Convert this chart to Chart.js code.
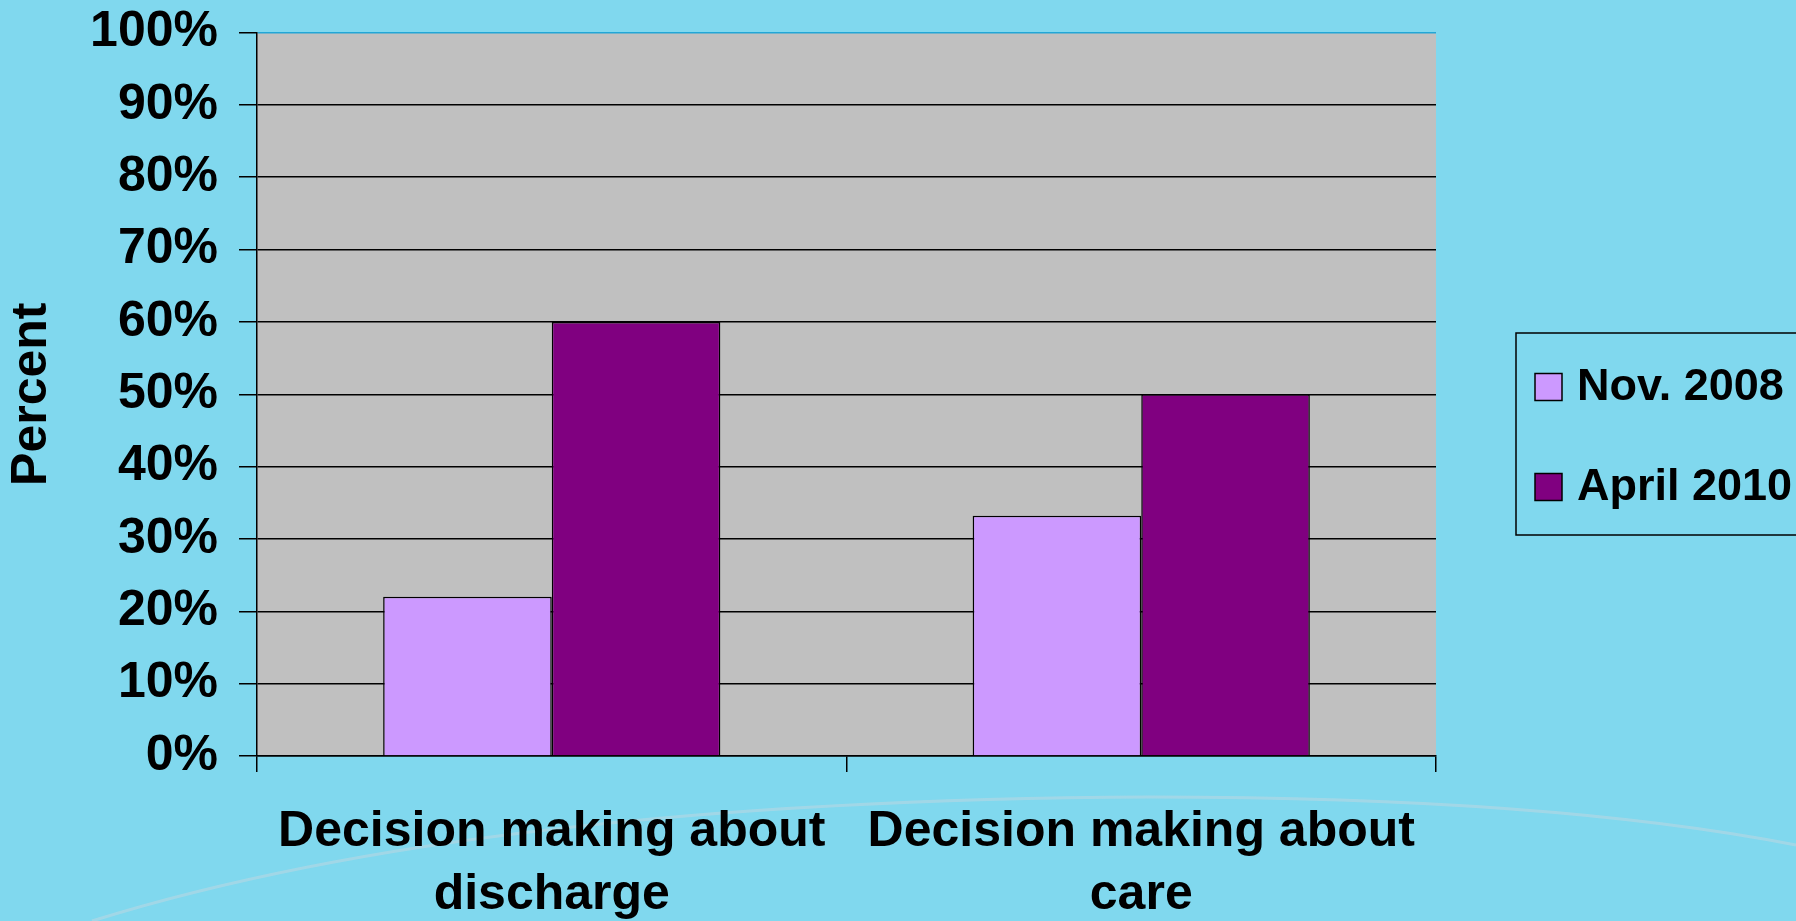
<!DOCTYPE html>
<html>
<head>
<meta charset="utf-8">
<script src="https://cdn.jsdelivr.net/npm/chart.js@4"></script>
<style>
  html, body { margin: 0; padding: 0; background: #80D8EE; }
  #wrap { width: 1796px; height: 921px; position: relative; }
</style>
</head>
<body>
<div id="wrap"><canvas id="barChart" width="1796" height="921"></canvas></div>
<script>
// data
const categories = [['Decision making about', 'discharge'], ['Decision making about', 'care']];
const seriesNames = ['Nov. 2008', 'April 2010'];
const nov2008 = [22, 33.2];
const april2010 = [60, 50];
const seriesColors = ['#CC99FF', '#800080'];
const yTicks = [0, 10, 20, 30, 40, 50, 60, 70, 80, 90, 100];

const FONT = '"Liberation Sans", Arial, sans-serif';

// background, plot fill and the faint swoosh
const backdrop = {
    id: 'backdrop',
    beforeDraw(chart) {
        const c = chart.ctx, a = chart.chartArea;
        c.save();
        c.fillStyle = '#80D8EE';
        c.fillRect(0, 0, chart.width, chart.height);
        c.strokeStyle = 'rgba(175,215,228,0.7)';
        c.lineWidth = 3;
        c.beginPath();
        c.moveTo(92, 921);
        c.quadraticCurveTo(480, 800, 1150, 797);
        c.quadraticCurveTo(1550, 797, 1796, 845);
        c.stroke();
        c.fillStyle = '#C0C0C0';
        c.fillRect(a.left, a.top, a.right - a.left, a.bottom - a.top);
        c.restore();
    }
};

// legend box drawn by hand so it can run off the right edge
const sideLegend = {
    id: 'sideLegend',
    afterDraw(chart) {
        const c = chart.ctx;
        c.save();
        c.strokeStyle = '#000';
        c.lineWidth = 1.5;
        c.strokeRect(1516, 333, 320, 202);
        c.font = 'bold 45px ' + FONT;
        c.textBaseline = 'middle';
        c.textAlign = 'left';
        chart.data.datasets.forEach((ds, i) => {
            const cy = 387 + i * 100;
            c.fillStyle = ds.backgroundColor;
            c.fillRect(1535, cy - 13.5, 27, 27);
            c.strokeRect(1535, cy - 13.5, 27, 27);
            c.fillStyle = '#000';
            c.fillText(ds.label, 1577, cy + 1);
        });
        c.restore();
    }
};

const ctx = document.getElementById('barChart').getContext('2d');
new Chart(ctx, {
    type: 'bar',
    data: {
        labels: categories,
        datasets: [{
            label: seriesNames[0],
            data: nov2008,
            backgroundColor: seriesColors[0],
            borderColor: '#000',
            borderWidth: 1.5
        }, {
            label: seriesNames[1],
            data: april2010,
            backgroundColor: seriesColors[1],
            borderColor: '#000',
            borderWidth: 1.5
        }]
    },
    options: {
        responsive: false,
        animation: false,
        devicePixelRatio: 1,
        layout: { padding: { top: 32.5, right: 360, left: 0, bottom: 0 } },
        datasets: { bar: { categoryPercentage: 0.572, barPercentage: 1.0 } },
        plugins: {
            legend: { display: false },
            tooltip: { enabled: false }
        },
        scales: {
            x: {
                offset: true,
                grid: {
                    offset: true,
                    drawOnChartArea: true,
                    color: c => c.index === 2 ? '#22A6D6' : 'rgba(0,0,0,0)',
                    tickColor: '#000',
                    tickLength: 16,
                    lineWidth: 1.5
                },
                border: { color: '#000', width: 1.5 },
                ticks: {
                    color: '#000',
                    padding: 29,
                    maxRotation: 0,
                    font: { family: FONT, size: 50, weight: 'bold', lineHeight: 1.26 }
                },
                afterFit(scale) { scale.height = 165; }
            },
            y: {
                min: 0,
                max: 100,
                afterBuildTicks(scale) { scale.ticks = yTicks.map(v => ({ value: v })); },
                grid: {
                    color: c => c.tick && c.tick.value === 100 ? '#22A6D6' : '#000',
                    tickColor: '#000',
                    tickLength: 18,
                    lineWidth: 1.5
                },
                border: { color: '#000', width: 1.5 },
                ticks: {
                    color: '#000',
                    padding: 21,
                    font: { family: FONT, size: 50, weight: 'bold', lineHeight: 0.2 },
                    callback: v => v + '%'
                },
                title: {
                    display: true,
                    text: 'Percent',
                    color: '#000',
                    padding: { top: 2, bottom: 0 },
                    font: { family: FONT, size: 50, weight: 'bold', lineHeight: 1.2 }
                },
                afterFit(scale) { scale.width = 257; }
            }
        }
    },
    plugins: [backdrop, sideLegend]
});
</script>
</body>
</html>
